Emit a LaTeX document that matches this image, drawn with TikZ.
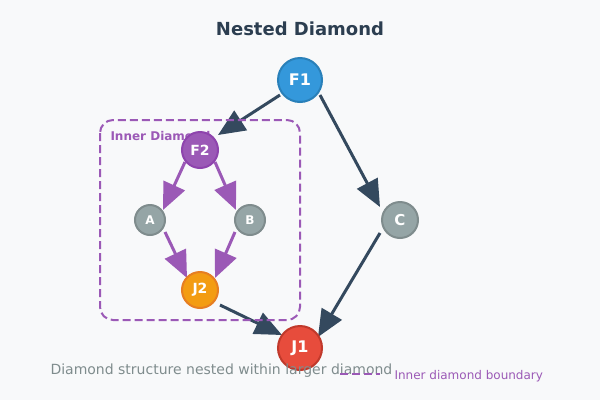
\documentclass[tikz,border=0pt]{standalone}
\usepackage{fontspec}
\setmainfont{DejaVu Sans}
\usepackage{tikz}
\usetikzlibrary{arrows.meta,positioning,calc}
\pgfdeclarelayer{bg}
\pgfdeclarelayer{paper}
\pgfsetlayers{paper,bg,main}
\definecolor{pagebg}{HTML}{F8F9FA}
\definecolor{ink}{HTML}{2C3E50}
\definecolor{edge}{HTML}{34495E}
\definecolor{purp}{HTML}{9B59B6}
\definecolor{purpdk}{HTML}{8E44AD}
\definecolor{blu}{HTML}{3498DB}
\definecolor{bludk}{HTML}{2980B9}
\definecolor{gry}{HTML}{95A5A6}
\definecolor{grydk}{HTML}{7F8C8D}
\definecolor{orng}{HTML}{F39C12}
\definecolor{orngdk}{HTML}{E67E22}
\definecolor{rd}{HTML}{E74C3C}
\definecolor{rddk}{HTML}{C0392B}

\begin{document}
\begin{tikzpicture}[x=1pt,y=-1pt,
    vtx/.style={circle,draw,line width=2pt,inner sep=0pt,text=white,font=\bfseries},
    outer/.style={draw=edge,line width=3pt,-{Triangle[length=27pt,width=23pt]}},
    inner/.style={draw=purp,line width=3pt,-{Triangle[length=27pt,width=23pt]}},
    bound/.style={purp,line width=2pt,dash pattern=on 8pt off 4pt}]

    \begin{pgfonlayer}{paper}
        \fill [pagebg] (0,0) rectangle (600,400);
    \end{pgfonlayer}
    \useasboundingbox (0,0) rectangle (600,400);

    \node [text=ink,font=\fontsize{18}{22}\selectfont\bfseries] (title) at (300,29) {Nested Diamond};

    % inner diamond boundary
    \draw [bound,rounded corners=13pt] (100,120) rectangle (300,320);
    \node [anchor=west,text=purp,font=\fontsize{12}{14}\selectfont\bfseries] (lbl) at (107,136) {Inner Diamond};

    \node [vtx,fill=blu,draw=bludk,minimum size=44pt,font=\fontsize{16}{18}\selectfont\bfseries] (F1) at (300,80) {F1};
    \node [vtx,fill=purp,draw=purpdk,minimum size=36pt,font=\fontsize{14}{16}\selectfont\bfseries] (F2) at (200,150) {F2};
    \node [vtx,fill=gry,draw=grydk,minimum size=30pt,font=\fontsize{12}{14}\selectfont\bfseries] (A) at (150,220) {A};
    \node [vtx,fill=gry,draw=grydk,minimum size=30pt,font=\fontsize{12}{14}\selectfont\bfseries] (B) at (250,220) {B};
    \node [vtx,fill=orng,draw=orngdk,minimum size=36pt,font=\fontsize{14}{16}\selectfont\bfseries] (J2) at (200,290) {J2};
    \node [vtx,fill=gry,draw=grydk,minimum size=36pt,font=\fontsize{15}{17}\selectfont\bfseries] (C) at (400,220) {C};
    \node [vtx,fill=rd,draw=rddk,minimum size=44pt,font=\fontsize{16}{18}\selectfont\bfseries] (J1) at (300,348) {J1};

    \begin{pgfonlayer}{bg}    % connectors behind the nodes
        \draw [outer] ($(F1)+(-20,15)$) -- ($(F2)+(18,-15)$);
        \draw [outer] ($(F1)+(20,15)$) -- ($(C)+(-20,-13)$);
        \draw [outer] ($(C)+(-20,13)$) -- ($(J1)+(18,-11)$);
        \draw [outer] ($(J2)+(20,15)$) -- ($(J1)+(-18,-13)$);
        \draw [inner] ($(F2)+(-15,12)$) -- ($(A)+(13,-10)$);
        \draw [inner] ($(F2)+(15,12)$) -- ($(B)+(-14,-10)$);
        \draw [inner] ($(A)+(15,12)$) -- ($(J2)+(-13,-12)$);
        \draw [inner] ($(B)+(-15,12)$) -- ($(J2)+(15,-12)$);
    \end{pgfonlayer}

    \node [anchor=west,text=grydk,font=\fontsize{14}{16}\selectfont] (cap) at (47,371) {Diamond structure nested within larger diamond};

    % legend
    \coordinate (lg1) at (340,374);
    \coordinate (lg2) at (380,374);
    \draw [bound] (lg1) -- (lg2);
    \node [anchor=west,text=purp,font=\fontsize{12}{14}\selectfont] (lgtxt) at (391,376) {Inner diamond boundary};
\end{tikzpicture}
\end{document}
